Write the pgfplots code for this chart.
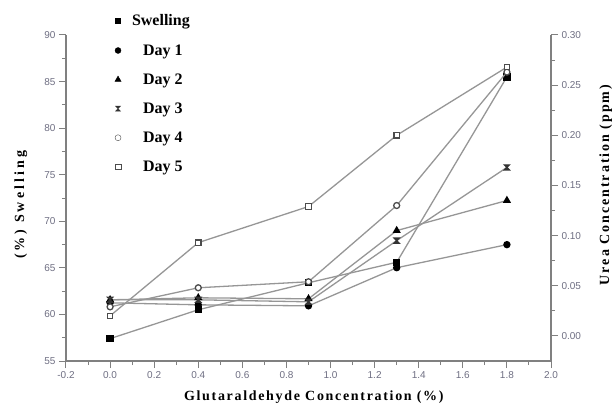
\documentclass[border=0pt]{standalone}
\usepackage{fontspec}
\setmainfont{Liberation Serif}
\setsansfont{Liberation Sans}
\usepackage{pgfplots}
\pgfplotsset{compat=1.18}
\definecolor{linegray}{RGB}{150,150,150}
\definecolor{axgray}{RGB}{128,128,128}
\definecolor{tickgray}{RGB}{110,110,130}
\pgfdeclareplotmark{hourglass}{%
  \pgfpathmoveto{\pgfqpoint{-\pgfplotmarksize}{\pgfplotmarksize}}%
  \pgfpathlineto{\pgfqpoint{\pgfplotmarksize}{\pgfplotmarksize}}%
  \pgfpathlineto{\pgfqpoint{-\pgfplotmarksize}{-\pgfplotmarksize}}%
  \pgfpathlineto{\pgfqpoint{\pgfplotmarksize}{-\pgfplotmarksize}}%
  \pgfpathclose
  \pgfusepathqfillstroke}
\pgfplotsset{
  base/.style={width=485pt, height=326pt, scale only axis,
    xmin=-0.2, xmax=2.0,
    tick align=outside, major tick length=7pt, minor tick length=4pt,
    every tick/.style={axgray, line width=1pt},
    axis line style={axgray, line width=1.5pt},
    tick label style={font=\sffamily\fontsize{10}{12}\selectfont, text=tickgray},
    /pgf/number format/assume math mode=true,
    label style={font=\bfseries\fontsize{14}{16}\selectfont},
  },
  dline/.style={linegray, line width=1.3pt, mark size=3pt, mark options={solid, line width=0.8pt}},
}
\begin{document}
\begin{tikzpicture}
\begin{axis}[base, name=ax,
  axis x line*=bottom, axis y line*=left,
  ymin=55, ymax=90, ytick={55,60,65,70,75,80,85,90}, minor y tick num=1,
  xtick={-0.2,0,0.2,0.4,0.6,0.8,1.0,1.2,1.4,1.6,1.8,2.0}, minor x tick num=1,
  xticklabel style={/pgf/number format/.cd, fixed, fixed zerofill, precision=1},
  xlabel={\addfontfeature{LetterSpace=12}Glutaraldehyde Concentration (\%)},
  xlabel style={at={(axis description cs:0.511,-0.110)}, anchor=center},
  ylabel={\addfontfeature{LetterSpace=22}(\%) Swelling},
  ylabel style={at={(axis description cs:-0.093,0.479)}, anchor=center},
]
\coordinate (O) at (rel axis cs:0,0);
\coordinate (T) at (rel axis cs:1,1);
\addplot[dline, mark=square*, mark options={fill=black, draw=black}] coordinates {
  (0,57.4) (0.4,60.5) (0.9,63.4) (1.3,65.6) (1.8,85.5)};
\end{axis}
\begin{axis}[base,
  axis y line*=right, axis x line=none,
  ymin=-0.025, ymax=0.30, ytick={0,0.05,0.10,0.15,0.20,0.25,0.30}, minor y tick num=1,
  scaled y ticks=false,
  yticklabel style={/pgf/number format/.cd, fixed, fixed zerofill, precision=2},
  ylabel={\addfontfeature{LetterSpace=14}Urea Concentration (ppm)},
  ylabel style={at={(axis description cs:1.113,0.54)}, anchor=center},
  legend style={draw=none, fill=none, at={(axis description cs:0.0945,1.0685)}, anchor=north west,
    font=\bfseries\fontsize{16}{18}\selectfont, row sep=13pt, legend cell align=left,
    inner sep=0pt},
  legend image code/.code={\path[draw=none, fill=none] (0pt,0pt) -- (18pt,0pt); \draw[#1] plot coordinates {(6pt,0pt)};},
]
\addlegendimage{only marks, mark=square*, mark size=2.5pt, black}
\addlegendentry{Swelling}
\addlegendimage{only marks, mark=*, mark size=3pt, black}
\addlegendentry{\hspace{11pt}Day 1}
\addlegendimage{only marks, mark=triangle*, mark size=3.5pt, black}
\addlegendentry{\hspace{11pt}Day 2}
\addlegendimage{only marks, mark=hourglass, mark size=2.5pt, black!80}
\addlegendentry{\hspace{11pt}Day 3}
\addlegendimage{only marks, mark=*, mark size=3pt, draw=black!70, fill=white}
\addlegendentry{\hspace{11pt}Day 4}
\addlegendimage{only marks, mark=square*, mark size=2.7pt, draw=black!70, fill=white}
\addlegendentry{\hspace{11pt}Day 5}
\addplot[dline, forget plot, mark=*, mark options={fill=black, draw=black}] coordinates {
  (0,0.033) (0.4,0.031) (0.9,0.030) (1.3,0.068) (1.8,0.091)};
\addplot[dline, forget plot, mark=triangle*, mark size=3.5pt, mark options={fill=black, draw=black}] coordinates {
  (0,0.036) (0.4,0.038) (0.9,0.037) (1.3,0.105) (1.8,0.135)};
\addplot[dline, forget plot, mark=hourglass, mark size=2.5pt, mark options={fill=black!80, draw=black!80}] coordinates {
  (0,0.036) (0.4,0.036) (0.9,0.034) (1.3,0.095) (1.8,0.168)};
\addplot[dline, forget plot, mark=*, mark options={fill=white, draw=black!70}] coordinates {
  (0,0.029) (0.4,0.048) (0.9,0.054) (1.3,0.130) (1.8,0.263)};
\addplot[dline, forget plot, mark=square*, mark size=2.7pt, mark options={fill=white, draw=black!70}] coordinates {
  (0,0.020) (0.4,0.093) (0.9,0.129) (1.3,0.200) (1.8,0.268)};
\end{axis}
\pgfresetboundingbox
\path ([xshift=-66pt,yshift=-46pt]O) rectangle ([xshift=61pt,yshift=35pt]T);
\end{tikzpicture}
\end{document}
